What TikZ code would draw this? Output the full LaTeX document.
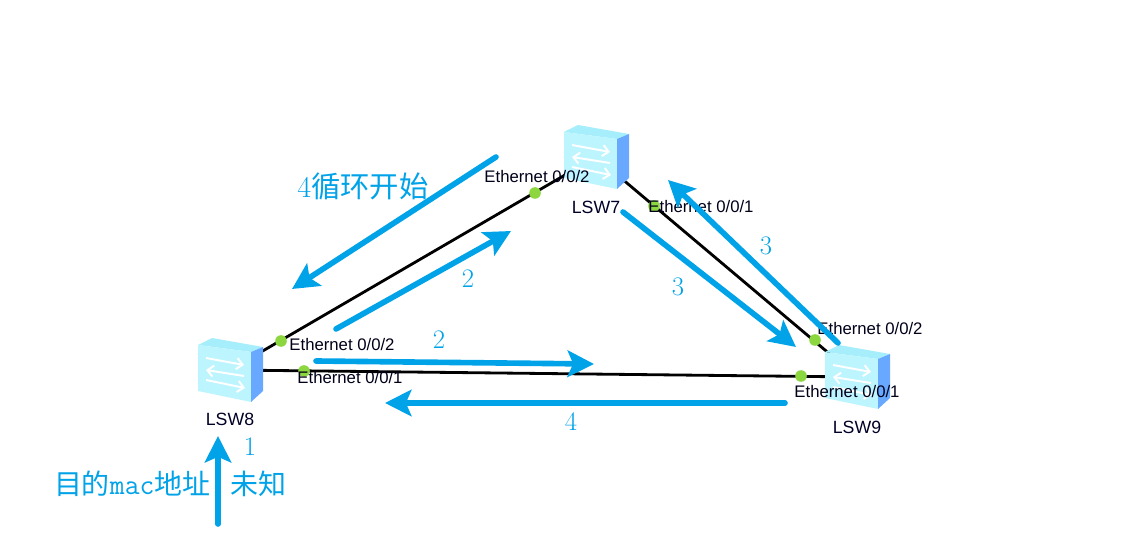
\documentclass[tikz,border=0pt]{standalone}
\usepackage{fontspec}
\setsansfont{Liberation Sans}
\newfontfamily\cjk{Noto Sans CJK SC}[Scale=0.97]
\usetikzlibrary{arrows.meta}
\definecolor{flow}{HTML}{00A2E8}
\definecolor{portgreen}{HTML}{8CD63F}
\definecolor{swtop}{HTML}{A6EEFB}
\definecolor{swfront}{HTML}{BDF5FF}
\definecolor{swside}{HTML}{68A8FF}
\tikzset{
  sw/.style = {minimum width = 1.3cm, minimum height = 1.3cm, inner sep = 0},
  link/.style = {black, line width = 2pt},
  port/.style = {circle, fill = portgreen, minimum size = 0.29cm, inner sep = 0},
  eth/.style = {font = \sffamily\fontsize{11.9}{14}\selectfont, text = black!90!blue, inner sep = 0},
  swname/.style = {font = \sffamily\fontsize{12.6}{14}\selectfont, text = black!85!blue, inner sep = 0},
  path/.style = {flow, line width = 4pt, line cap = round, -{Stealth[length = 0.66cm, width = 0.66cm, inset = 0.14cm]}},
  num/.style = {text = flow, font = \fontsize{19}{22}\selectfont, inner sep = 0},
  note/.style = {text = flow, font = \cjk\fontsize{21.5}{24}\selectfont, inner sep = 0},
  smallnote/.style = {note, font = \cjk\fontsize{20.5}{24}\selectfont},
  pics/switchicon/.style = {code = {
    \fill[swtop] (-32,-25) -- (-18,-32) -- (33,-23) -- (21,-18) -- cycle;
    \fill[swfront] (-32,-25) -- (21,-18) -- (21,32) -- (-32,21) -- cycle;
    \fill[swside] (21,-18) -- (33,-23) -- (33,21) -- (21,32) -- cycle;
    \draw[white, line width = 1.4pt, -{Straight Barb[length = 0.15cm, width = 0.28cm]}] (-24,-12) -- (14,-5);
    \draw[white, line width = 1.4pt, -{Straight Barb[length = 0.15cm, width = 0.28cm]}] (14,6) -- (-24,0);
    \draw[white, line width = 1.4pt, -{Straight Barb[length = 0.15cm, width = 0.28cm]}] (-24,10) -- (15,18);
  }}
}
\begin{document}
\begin{tikzpicture}[x = 0.025cm, y = -0.025cm]
\useasboundingbox (0,0) rectangle (1126,544);
\node[sw] at (596,157) (lsw7) {};
\node[sw] at (230,370) (lsw8) {};
\node[sw] at (857,377) (lsw9) {};
\draw[link] (lsw8) -- (lsw7);
\draw[link] (lsw7) -- (lsw9);
\draw[link] (lsw8) -- (lsw9);
\pic at (lsw7.center) {switchicon};
\pic at (lsw8.center) {switchicon};
\pic at (lsw9.center) {switchicon};
\node[port] at (535,193) (p72) {};
\node[port] at (654,206) (p71) {};
\node[port] at (281,341) (p82) {};
\node[port] at (304,371) (p81) {};
\node[port] at (815,340) (p92) {};
\node[port] at (801,376) (p91) {};
\node[eth] at (537,177) (e72) {Ethernet 0/0/2};
\node[eth] at (701,207) (e71) {Ethernet 0/0/1};
\node[eth] at (342,345) (e82) {Ethernet 0/0/2};
\node[eth] at (350,378) (e81) {Ethernet 0/0/1};
\node[eth] at (870,329) (e92) {Ethernet 0/0/2};
\node[eth] at (847,392) (e91) {Ethernet 0/0/1};
\node[swname] at (596,207) (n7) {LSW7};
\node[swname] at (230,419) (n8) {LSW8};
\node[swname] at (857,427) (n9) {LSW9};
\coordinate (a1) at (218,524);
\coordinate (b1) at (218,436);
\coordinate (a2) at (336,329);
\coordinate (b2) at (511,231);
\coordinate (a3) at (316,361);
\coordinate (b3) at (594,364);
\coordinate (a4) at (623,212);
\coordinate (b4) at (796,347);
\coordinate (a5) at (838,343);
\coordinate (b5) at (668,180);
\coordinate (a6) at (496,157);
\coordinate (b6) at (292,289);
\coordinate (a7) at (785,403);
\coordinate (b7) at (385,403);
\draw[path] (a1) -- (b1);
\draw[path] (a2) -- (b2);
\draw[path] (a3) -- (b3);
\draw[path] (a4) -- (b4);
\draw[path] (a5) -- (b5);
\draw[path] (a6) -- (b6);
\draw[path] (a7) -- (b7);
\node[num] at (250,447) (t1) {1};
\node[num] at (468,279) (t2) {2};
\node[num] at (439,340) (t3) {2};
\node[num] at (766,246) (t4) {3};
\node[num] at (678,287) (t5) {3};
\node[num] at (571,422) (t6) {4};
\node[note] at (363,186) (loop) {{\rmfamily 4}循环开始};
\node[smallnote] at (170,484) (dst) {目的{\ttfamily mac}地址\hspace{14pt}未知};
\end{tikzpicture}
\end{document}
